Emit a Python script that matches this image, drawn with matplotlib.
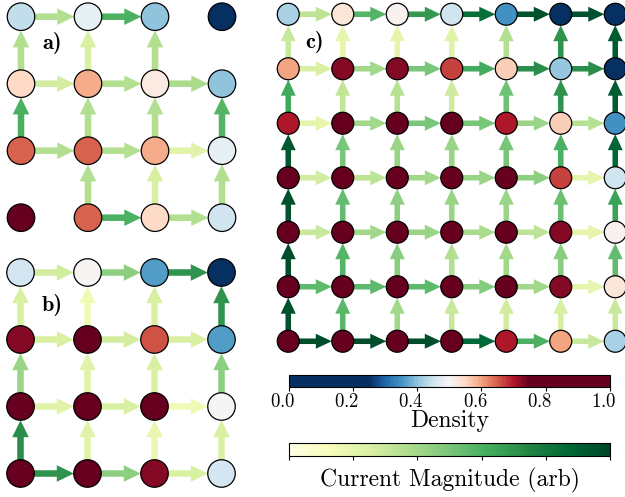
import matplotlib
matplotlib.use('Agg')
import matplotlib.pyplot as plt
import numpy as np
from matplotlib.colors import ListedColormap, Normalize
from matplotlib.patches import FancyArrowPatch, ArrowStyle
from matplotlib.cm import ScalarMappable
from matplotlib.transforms import ScaledTranslation

plt.rcParams['font.family'] = 'cmr10'
plt.rcParams['mathtext.fontset'] = 'cm'
plt.rcParams['axes.formatter.use_mathtext'] = True

nan = np.nan

# site densities, top row first
dens_a = [
    [0.44, 0.48, 0.40, 0.15],
    [0.55, 0.59, 0.52, 0.40],
    [0.645, 0.645, 0.59, 0.48],
    [0.90, 0.645, 0.55, 0.45],
]
# currents to the right neighbour (rows x cols-1) and to the site above (rows-1 x cols)
hcur_a = [
    [0.36, 0.60, nan],
    [0.27, 0.36, 0.38],
    [0.36, 0.36, 0.22],
    [nan, 0.60, 0.36],
]
vcur_a = [
    [0.36, 0.25, 0.36, nan],
    [0.60, 0.36, 0.36, 0.58],
    [nan, 0.36, 0.25, 0.36],
]

dens_b = [
    [0.455, 0.50, 0.36, 0.10],
    [0.73, 0.85, 0.66, 0.36],
    [0.85, 0.85, 0.85, 0.50],
    [0.85, 0.85, 0.73, 0.455],
]
hcur_b = [
    [0.27, 0.45, 0.70],
    [0.25, 0.27, 0.25],
    [0.22, 0.25, 0.15],
    [0.70, 0.45, 0.25],
]
vcur_b = [
    [0.25, 0.15, 0.25, 0.70],
    [0.42, 0.22, 0.25, 0.45],
    [0.72, 0.22, 0.18, 0.25],
]

dens_c = [
    [0.42, 0.53, 0.51, 0.45, 0.35, 0.10, 0.05],
    [0.60, 0.73, 0.73, 0.67, 0.56, 0.405, 0.10],
    [0.70, 0.85, 0.85, 0.85, 0.70, 0.56, 0.35],
    [0.85, 0.85, 0.85, 0.85, 0.85, 0.67, 0.45],
    [0.85, 0.85, 0.85, 0.85, 0.85, 0.73, 0.51],
    [0.85, 0.85, 0.85, 0.85, 0.85, 0.73, 0.53],
    [0.85, 0.85, 0.85, 0.85, 0.70, 0.60, 0.42],
]
hcur_c = [
    [0.33, 0.58, 0.68, 0.85, 0.95, 0.95],
    [0.25, 0.40, 0.50, 0.62, 0.72, 0.72],
    [0.20, 0.40, 0.50, 0.50, 0.42, 0.35],
    [0.27, 0.33, 0.40, 0.42, 0.45, 0.20],
    [0.30, 0.40, 0.42, 0.38, 0.33, 0.20],
    [0.56, 0.56, 0.56, 0.47, 0.40, 0.20],
    [0.97, 0.97, 0.97, 0.87, 0.60, 0.30],
]
vcur_c = [
    [0.30, 0.20, 0.20, 0.22, 0.36, 0.70, 0.92],
    [0.63, 0.32, 0.35, 0.28, 0.52, 0.70, 0.92],
    [0.93, 0.50, 0.42, 0.42, 0.50, 0.60, 0.88],
    [0.95, 0.55, 0.45, 0.42, 0.42, 0.53, 0.65],
    [0.97, 0.58, 0.46, 0.36, 0.40, 0.46, 0.55],
    [0.95, 0.57, 0.40, 0.30, 0.27, 0.26, 0.30],
]

panel_labels = ['a)', 'b)', 'c)']
colorbar_ticks = [0.0, 0.2, 0.4, 0.6, 0.8, 1.0]

# RdBu_r squeezed into 0.25..0.75, saturated outside
_x = np.linspace(0, 1, 256)
dens_cmap = ListedColormap(plt.get_cmap('RdBu_r')(np.clip((_x - 0.25) / 0.5, 0, 1)))
cur_cmap = plt.get_cmap('YlGn')

W, H = 625, 497
fig = plt.figure(figsize=(W / 100, H / 100), dpi=100)


def px_axes(left, top, width, height):
    return fig.add_axes([left / W, 1 - (top + height) / H, width / W, height / H])


def add_arrow(ax, p0, p1, val, node_d, tail, head_w, head_l):
    style = ArrowStyle.Simple(head_length=head_l, head_width=head_w, tail_width=tail)
    arr = FancyArrowPatch(p0, p1, arrowstyle=style, mutation_scale=1,
                          shrinkA=0, shrinkB=node_d / 2,
                          facecolor=cur_cmap(val), edgecolor='none',
                          linewidth=0, zorder=2, clip_on=False)
    ax.add_patch(arr)


def draw_lattice(ax, dens, hcur, vcur, node_d, tail, head_w, head_l, label, label_xy):
    dens = np.asarray(dens)
    n_rows, n_cols = dens.shape
    ys = n_rows - 1 - np.arange(n_rows)
    for r in range(n_rows):
        for c in range(n_cols - 1):
            if not np.isnan(hcur[r][c]):
                add_arrow(ax, (c, ys[r]), (c + 1, ys[r]), hcur[r][c],
                          node_d, tail, head_w, head_l)
    for r in range(n_rows - 1):
        for c in range(n_cols):
            if not np.isnan(vcur[r][c]):
                add_arrow(ax, (c, ys[r + 1]), (c, ys[r]), vcur[r][c],
                          node_d, tail, head_w, head_l)
    cc, rr = np.meshgrid(np.arange(n_cols), ys)
    ax.scatter(cc.ravel(), rr.ravel(), c=dens.ravel(), cmap=dens_cmap,
               vmin=0, vmax=1, s=node_d ** 2, edgecolors='black',
               linewidths=0.9, zorder=3, clip_on=False)
    ax.text(label_xy[0], label_xy[1], label, family='cmb10', fontsize=16,
            ha='center', va='center', zorder=4)
    ax.set_xlim(-0.5, n_cols - 0.5)
    ax.set_ylim(-0.5, n_rows - 0.5)
    ax.axis('off')


# small lattices: 67 px pitch, big lattice: 54.5 px pitch
ax_a = px_axes(-12.5, -16.8, 268, 268)
ax_b = px_axes(-13.0, 239.0, 268, 268)
ax_c = px_axes(261.0, -13.0, 381.5, 381.5)

draw_lattice(ax_a, dens_a, hcur_a, vcur_a, 19.8, 4.7, 11.9, 12.2,
             panel_labels[0], (0.46, 2.61))
draw_lattice(ax_b, dens_b, hcur_b, vcur_b, 19.8, 4.7, 11.9, 12.2,
             panel_labels[1], (0.47, 2.51))
draw_lattice(ax_c, dens_c, hcur_c, vcur_c, 15.8, 4.0, 10.8, 11.5,
             panel_labels[2], (0.49, 5.49))

# colour bars
cax_d = px_axes(288.5, 375, 321.5, 11.7)
cb_d = fig.colorbar(ScalarMappable(Normalize(0, 1), dens_cmap), cax=cax_d,
                    orientation='horizontal', ticks=colorbar_ticks)
cb_d.ax.tick_params(labelsize=13.5, length=3, width=0.8, pad=1.5)
cb_d.set_label('Density', fontsize=17, labelpad=-1)
cb_d.outline.set_linewidth(0.8)
# tick labels sit a little left of their ticks
shift = ScaledTranslation(-0.06, 0, fig.dpi_scale_trans)
for lab in cb_d.ax.get_xticklabels():
    lab.set_transform(lab.get_transform() + shift)

cax_j = px_axes(289, 443.3, 321, 12.4)
cb_j = fig.colorbar(ScalarMappable(Normalize(0, 1), cur_cmap), cax=cax_j,
                    orientation='horizontal', ticks=colorbar_ticks)
cb_j.ax.tick_params(labelbottom=False, length=3, width=0.8)
cb_j.set_label('Current Magnitude (arb)', fontsize=17, labelpad=6)
cb_j.outline.set_linewidth(0.8)

fig.savefig('out.png', dpi=100, facecolor='white')
